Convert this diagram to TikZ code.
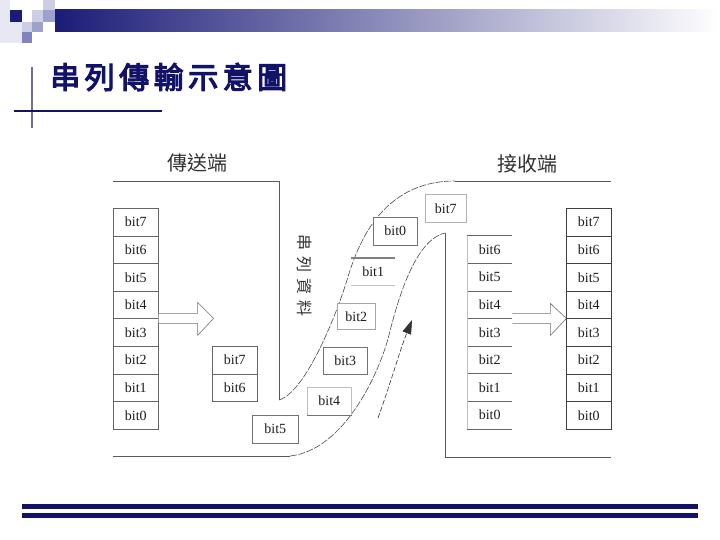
\documentclass[tikz,border=0pt]{standalone}
\usepackage{fontspec}
\setmainfont{Liberation Serif}
\newfontfamily\cjk{Noto Sans CJK TC}
\newfontfamily\cjkbold[FakeBold=4]{Noto Sans CJK TC}
\usetikzlibrary{arrows.meta,calc}
\definecolor{navy}{RGB}{18,18,105}
\definecolor{barnavy}{RGB}{28,28,120}
\definecolor{lav1}{RGB}{232,232,244}
\definecolor{lav2}{RGB}{205,205,230}
\definecolor{lav3}{RGB}{160,160,205}
\definecolor{lav4}{RGB}{130,130,190}
\definecolor{vline}{RGB}{110,110,150}
\definecolor{txt}{RGB}{30,30,30}
\definecolor{lbl}{RGB}{50,50,50}
\tikzset{
  bitbox/.style={draw=black!60, line width=0.6pt, fill=white, minimum width=45pt,
    minimum height=27.6pt, inner sep=0pt, font=\fontsize{14}{16}\selectfont, text=txt, anchor=north west},
  midbox/.style={draw=black!35, line width=0.6pt, fill=white, minimum width=44pt,
    minimum height=27.5pt, inner sep=0pt, font=\fontsize{14}{16}\selectfont, text=txt, anchor=north west},
  plainbox/.style={minimum width=45pt, minimum height=27.6pt, inner sep=0pt,
    font=\fontsize{14}{16}\selectfont, text=txt, anchor=north west},
  frame/.style={draw=black!65, line width=0.7pt},
  curve/.style={draw=black!70, line width=0.6pt, dash pattern=on 7pt off 1.5pt},
  hollow/.style={draw=black!55, line width=0.6pt, fill=white},
  lab/.style={font=\cjk\fontsize{20}{22}\selectfont, text=lbl},
  titletext/.style={font=\cjkbold\fontsize{30}{32}\selectfont, text=navy, anchor=west, inner sep=0pt},
  rline/.style={draw=black!60, line width=0.6pt},
}
\begin{document}
\begin{tikzpicture}[x=1pt,y=-1pt]
\useasboundingbox (0,0) rectangle (720,540);
\fill[white] (0,0) rectangle (720,540);

% ---- top decoration ----
\shade[left color=barnavy, right color=white] (55,10) rectangle (720,32);
\fill[lav1] (0,0) rectangle (10,43);
\fill[lav1] (10,22) rectangle (22,43);
\fill[barnavy] (10,10) rectangle (22,22);
\fill[lav2] (32,10) rectangle (43,22);
\fill[lav3] (43,10) rectangle (55,22);
\fill[lav2] (43,0) rectangle (55,10);
\fill[lav2] (22,22) rectangle (32,32);
\fill[lav3] (32,22) rectangle (43,32);
\fill[lav4] (22,32) rectangle (32,43);

% ---- title ----
\node[titletext] (title) at (50,77) {串\hspace{4.5pt}列\hspace{4.5pt}傳\hspace{4.5pt}輸\hspace{4.5pt}示\hspace{4.5pt}意\hspace{4.5pt}圖};
\draw[vline, line width=2pt] (32,67) -- (32,128);
\draw[navy, line width=2.6pt] (14,111) -- (162,111);

% ---- bottom lines ----
\fill[navy] (22,504) rectangle (698,509);
\fill[navy] (22,513) rectangle (698,518);

% ---- labels ----
\node[lab] (sendlbl) at (197,163) {傳送端};
\node[lab] (recvlbl) at (527,164) {接收端};
\node[font=\cjk\fontsize{16}{17}\selectfont, text=lbl, rotate=-90] (serial) at (305,276)
  {串\hspace{6pt}列\hspace{6pt}資\hspace{6pt}料};

% ---- frames ----
\draw[frame] (113,181) -- (279,181) -- (279,400);
\draw[curve] (279,400) .. controls (306,392) and (337,313) .. (347,280)
  .. controls (357,247) and (380,181) .. (455,181);
\draw[frame] (455,181) -- (611,181);
\draw[frame] (113,456) -- (290,456);
\draw[curve] (290,456) .. controls (345,450) and (380,371) .. (389,335)
  .. controls (398,299) and (415,240) .. (445,233);
\draw[frame] (445,233) -- (445,457) -- (611,457);

% ---- sender stack ----
\node[bitbox] (s7) at (113,208) {bit7};
\node[bitbox] (s6) at (113,235.6) {bit6};
\node[bitbox] (s5) at (113,263.2) {bit5};
\node[bitbox] (s4) at (113,290.8) {bit4};
\node[bitbox] (s3) at (113,318.4) {bit3};
\node[bitbox] (s2) at (113,346) {bit2};
\node[bitbox] (s1) at (113,373.6) {bit1};
\node[bitbox] (s0) at (113,401.2) {bit0};

% sender hollow arrow
\draw[hollow, shift={(s3.north east)}] (0,-5) -- (39,-5) -- (39,-16) -- (55,0) -- (39,17) -- (39,5) -- (0,5);

% ---- bits in transit ----
\node[bitbox] (m7) at (212,346) {bit7};
\node[bitbox] (m6) at (212,373.6) {bit6};
\node[midbox, draw=black!55, minimum width=46pt] (t5) at (252,415) {bit5};
\node[midbox, draw=black!25] (t4) at (307,387) {bit4};
\draw[black!55, line width=0.7pt] (t4.south west) -- (t4.south east);
\node[midbox, draw=black!55] (t3) at (323,346.5) {bit3};
\node[midbox, draw=black!35, minimum width=38pt, minimum height=26pt] (t2) at (337,303) {bit2};
\node[plainbox, minimum width=44pt, minimum height=27pt] (t1) at (351,258) {bit1};
\draw[black!50, line width=1.4pt] (t1.north west) -- (t1.north east);
\draw[black!25, line width=0.6pt] (t1.south west) -- (t1.south east);
\node[midbox, draw=black!55] (t0) at (373,217) {bit0};
\node[midbox, draw=black!30, minimum width=41pt, minimum height=28pt] (t7) at (425,194) {bit7};

% arrow along channel
\draw[black!80, line width=0.6pt, dash pattern=on 5pt off 2pt, -{Triangle[length=14pt,width=9pt]}]
  (378,418) .. controls (390,385) and (400,350) .. (412,320);

% ---- receiver stack 1 ----
\node[plainbox] (r6) at (467,235.6) {bit6};
\node[plainbox] (r5) at (467,263.2) {bit5};
\node[plainbox] (r4) at (467,290.8) {bit4};
\node[plainbox] (r3) at (467,318.4) {bit3};
\node[plainbox] (r2) at (467,346) {bit2};
\node[plainbox] (r1) at (467,373.6) {bit1};
\node[plainbox] (r0) at (467,401.2) {bit0};
\foreach \n in {r6,r5,r4,r3,r2,r1,r0} {
  \draw[rline] (\n.north west) -- (\n.north east);
}
\draw[rline] (r0.south west) -- (r0.south east);
\draw[black!25, line width=0.6pt] (r6.north west) -- (r0.south west);

% receiver hollow arrow
\draw[hollow, shift={(r3.north east)}] (0,-5) -- (38,-5) -- (38,-15) -- (54,0) -- (38,17) -- (38,5) -- (0,5);

% ---- receiver stack 2 ----
\node[bitbox, draw=black!75] (q7) at (566,208) {bit7};
\node[bitbox, draw=black!75] (q6) at (566,235.6) {bit6};
\node[bitbox, draw=black!75] (q5) at (566,263.2) {bit5};
\node[bitbox, draw=black!75] (q4) at (566,290.8) {bit4};
\node[bitbox, draw=black!75] (q3) at (566,318.4) {bit3};
\node[bitbox, draw=black!75] (q2) at (566,346) {bit2};
\node[bitbox, draw=black!75] (q1) at (566,373.6) {bit1};
\node[bitbox, draw=black!75] (q0) at (566,401.2) {bit0};
\end{tikzpicture}
\end{document}
